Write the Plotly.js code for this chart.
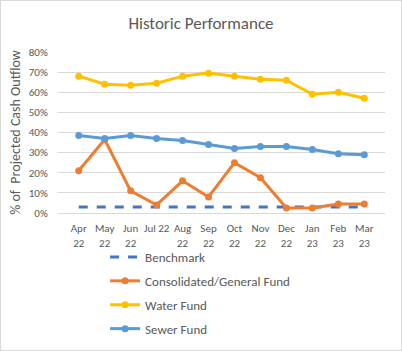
<!DOCTYPE html>
<html><head><meta charset="utf-8">
<script src="https://cdn.plot.ly/plotly-3.0.1.min.js"></script>
<style>body{margin:0;padding:0;background:#fff}#chart{width:400px;height:349px;border:1px solid #d9d9d9}</style>
</head><body><div id="chart"></div>
<script>
const categories = ["Apr<br>22","May<br>22","Jun<br>22","Jul 22","Aug<br>22","Sep<br>22","Oct<br>22","Nov<br>22","Dec<br>22","Jan<br>23","Feb<br>23","Mar<br>23"];
const benchmark = [0.03,0.03,0.03,0.03,0.03,0.03,0.03,0.03,0.03,0.03,0.03,0.03];
const consolidated = [0.21,0.365,0.11,0.04,0.16,0.08,0.25,0.175,0.025,0.025,0.045,0.045];
const water = [0.68,0.64,0.635,0.645,0.68,0.695,0.68,0.665,0.66,0.59,0.60,0.57];
const sewer = [0.385,0.37,0.385,0.37,0.36,0.34,0.32,0.33,0.33,0.315,0.295,0.29];

const font = {family:"Calibri, Carlito, 'Liberation Sans', sans-serif", color:"#595959"};
const traces = [
  {name:"Benchmark", x:categories, y:benchmark, mode:"lines", line:{color:"#4472C4", width:3, dash:"dash"}, legendgroup:"a"},
  {name:"Consolidated/General Fund", x:categories, y:consolidated, mode:"lines+markers", line:{color:"#ED7D31", width:3}, marker:{size:7,color:"#ED7D31"}, legendgroup:"b"},
  {name:"Water Fund", x:categories, y:water, mode:"lines+markers", line:{color:"#FFC000", width:3}, marker:{size:7,color:"#FFC000"}, legendgroup:"c"},
  {name:"Sewer Fund", x:categories, y:sewer, mode:"lines+markers", line:{color:"#5B9BD5", width:3}, marker:{size:7,color:"#5B9BD5"}, legendgroup:"d"}
];
const layout = {
  width:400, height:349,
  margin:{l:57, r:16, t:51, b:137, autoexpand:false},
  paper_bgcolor:"#fff", plot_bgcolor:"#fff",
  font:Object.assign({size:11}, font),
  title:{text:"Historic Performance", font:Object.assign({size:17}, font), x:0.5, xanchor:"center", y:0.937, yanchor:"middle"},
  xaxis:{type:"category", showgrid:false, showline:false, ticks:"outside", ticklen:5, tickcolor:"rgba(0,0,0,0)", tickangle:0, tickfont:Object.assign({size:11}, font), fixedrange:true, automargin:false},
  yaxis:{range:[0,0.8], dtick:0.1, tickformat:".0%", showgrid:true, gridcolor:"#d9d9d9", gridwidth:1, zeroline:true, zerolinecolor:"#d9d9d9", showline:false, ticks:"outside", ticklen:7, tickcolor:"rgba(0,0,0,0)", tickfont:Object.assign({size:11}, font), automargin:false,
         title:{text:"% of  Projected Cash Outflow", font:Object.assign({size:14}, font)}},
  showlegend:true,
  legend:{orientation:"v", x:0.144, xanchor:"left", y:-0.18, yanchor:"top", font:Object.assign({size:13}, font), traceorder:"grouped", tracegroupgap:4, itemwidth:30, bgcolor:"rgba(0,0,0,0)"}
};
Plotly.newPlot("chart", traces, layout, {displayModeBar:false, staticPlot:true});
</script></body></html>
